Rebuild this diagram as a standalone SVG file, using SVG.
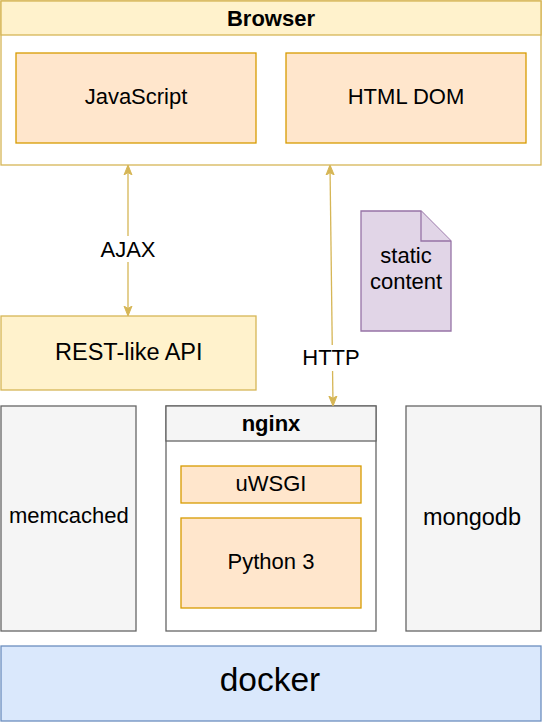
<svg xmlns="http://www.w3.org/2000/svg" width="543" height="722" viewBox="0 0 543 722">
<style>
text{font-family:"Liberation Sans",Arial,Helvetica,sans-serif;font-size:22px;fill:#000;text-anchor:middle}
.b{font-weight:bold}
.l{font-size:23.5px}
.yel{fill:#fff2cc;stroke:#d6b656;stroke-width:1.3}
.org{fill:#ffe6cc;stroke:#d79b00;stroke-width:1.3}
.gry{fill:#f5f5f5;stroke:#666666;stroke-width:1.3}
.pur{fill:#e1d5e7;stroke:#9673a6;stroke-width:1.3}
.blu{fill:#dae8fc;stroke:#6c8ebf;stroke-width:1.3}
.conn{stroke:#d6b656;stroke-width:1.3;fill:none}
</style>
<defs>
<marker id="ah" viewBox="0 0 10 10" refX="9" refY="5" markerWidth="10" markerHeight="10" markerUnits="userSpaceOnUse" orient="auto-start-reverse">
<path d="M0,1 L10,5 L0,9 L2.5,5 Z" fill="#d6b656" stroke="#d6b656" stroke-width="1"/>
</marker>
</defs>
<rect width="543" height="722" fill="#ffffff"/>

<g id="browser">
<rect x="1" y="1" width="540" height="164" fill="#ffffff" stroke="#d6b656" stroke-width="1.3"/>
<rect x="1" y="1" width="540" height="34" class="yel"/>
<text x="271" y="26" class="b">Browser</text>
</g>
<g id="javascript">
<rect x="16" y="53" width="240" height="90" class="org"/>
<text x="136" y="104">JavaScript</text>
</g>
<g id="htmldom">
<rect x="286" y="53" width="240" height="90" class="org"/>
<text x="406" y="104">HTML DOM</text>
</g>
<g id="restapi">
<rect x="1" y="316" width="255" height="74" class="yel"/>
<text x="128.8" y="359.5" class="l">REST-like API</text>
</g>
<g id="static">
<path d="M361,211 L421,211 L451,241 L451,331 L361,331 Z" class="pur"/>
<path d="M421,211 L421,241 L451,241" class="pur"/>
<text x="406" y="263">static</text>
<text x="406" y="289">content</text>
</g>
<g id="memcached">
<rect x="1" y="406" width="135" height="225" class="gry"/>
<text x="68.8" y="522.5">memcached</text>
</g>
<g id="nginx">
<rect x="166" y="406" width="210" height="225" fill="#ffffff" stroke="#666666" stroke-width="1.3"/>
<rect x="166" y="406" width="210" height="35" class="gry"/>
<text x="271" y="431" class="b">nginx</text>
</g>
<g id="uwsgi">
<rect x="181" y="466" width="180" height="37" class="org"/>
<text x="271" y="491">uWSGI</text>
</g>
<g id="python">
<rect x="181" y="518" width="180" height="90" class="org"/>
<text x="271" y="569">Python 3</text>
</g>
<g id="mongodb">
<rect x="406" y="406" width="135" height="225" class="gry"/>
<text x="472" y="524.5" class="l">mongodb</text>
</g>
<g id="docker">
<rect x="1" y="646" width="540" height="75" class="blu"/>
<text x="270" y="691" style="font-size:33.5px">docker</text>
</g>

<g id="connectors">
<line x1="128" y1="166" x2="128" y2="315" class="conn" marker-start="url(#ah)" marker-end="url(#ah)"/>
<rect x="98" y="236" width="60" height="26" fill="#ffffff"/>
<text x="128" y="257">AJAX</text>
<line x1="330" y1="166" x2="333" y2="405" class="conn" marker-start="url(#ah)" marker-end="url(#ah)"/>
<rect x="300" y="345" width="62" height="26" fill="#ffffff"/>
<text x="331" y="365">HTTP</text>
</g>
</svg>
